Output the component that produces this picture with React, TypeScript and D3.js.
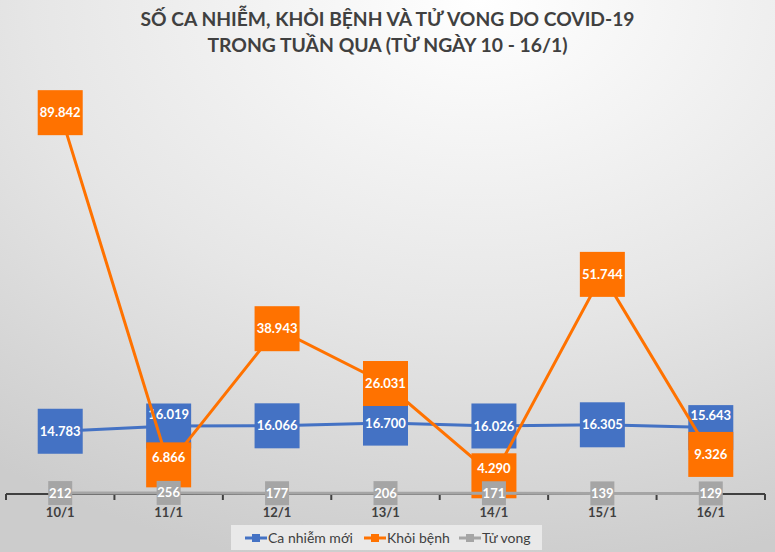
import React from 'react'
import * as d3 from 'd3'

const categories = ['10/1', '11/1', '12/1', '13/1', '14/1', '15/1', '16/1']
const newCases = [14783, 16019, 16066, 16700, 16026, 16305, 15643]
const recovered = [89842, 6866, 38943, 26031, 4290, 51744, 9326]
const deaths = [212, 256, 177, 206, 171, 139, 129]
const seriesNames = ['Ca nhiễm mới', 'Khỏi bệnh', 'Tử vong']
const seriesColors = ['#4472C4', '#FF7200', '#A5A5A5']
const titleLines = [
  'SỐ CA NHIỄM, KHỎI BỆNH VÀ TỬ VONG DO COVID-19',
  'TRONG TUẦN QUA (TỪ NGÀY 10 - 16/1)',
]

const W = 775
const H = 552
const font = "'Liberation Sans Narrow', Lato, 'Noto Sans', sans-serif"

const fmt = (v: number) => d3.format(',')(v).replace(/,/g, '.')

export default function App() {
  const x = d3.scaleBand().domain(categories).range([6, 765])
  const cx = (c: string) => (x(c) as number) + x.bandwidth() / 2
  const y = d3.scaleLinear().domain([0, 90000]).range([494, 112])

  const series = [newCases, recovered, deaths]
  const boxSize = [45, 45, 24]

  const line = d3.line<number>()
    .x((d, i) => cx(categories[i]))
    .y(d => y(d))

  const ticks = categories.map(c => x(c) as number).concat([765])

  // label text lifted when the next series' box sits on top of it
  const labelShift = (s: number, i: number) => {
    if (s >= 2) return 0
    const next = series[s + 1][i]
    const gap = y(next) - y(series[s][i])
    const half = (boxSize[s] + boxSize[s + 1]) / 2
    if (gap > 0 && gap < half) return s === 0 ? -12 : -7
    return 0
  }

  return (
    <svg width={W} height={H} style={{ position: 'absolute', left: 0, top: 0 }}>
      <defs>
        <radialGradient id="bg" cx="0.62" cy="0" r="1.05">
          <stop offset="0" stopColor="#ffffff" />
          <stop offset="0.55" stopColor="#e6e6e6" />
          <stop offset="1" stopColor="#cccccc" />
        </radialGradient>
      </defs>
      <rect width={W} height={H} fill="url(#bg)" />

      {titleLines.map((t, i) => (
        <text key={i} x={W / 2} y={26 + i * 26} textAnchor="middle" fontFamily={font}
          fontWeight="bold" fontSize={19} fill="#404040"
          textLength={i === 0 ? 494 : 360} lengthAdjust="spacingAndGlyphs">{t}</text>
      ))}

      {/* axis */}
      <line x1={6} x2={765} y1={494} y2={494} stroke="#404040" strokeWidth={2} />
      {ticks.map((t, i) => (
        <line key={i} x1={t} x2={t} y1={494} y2={500} stroke="#404040" strokeWidth={2} />
      ))}
      {categories.map(c => (
        <text key={c} x={cx(c)} y={517} textAnchor="middle" fontFamily={font}
          fontWeight="bold" fontSize={13} fill="#404040">{c}</text>
      ))}

      {series.map((vals, s) => (
        <g key={s}>
          <path d={line(vals) as string} fill="none" stroke={seriesColors[s]} strokeWidth={3} />
          {vals.map((v, i) => {
            const px = cx(categories[i])
            const py = y(v)
            const b = boxSize[s]
            return (
              <g key={i}>
                <rect x={px - b / 2} y={py - b / 2} width={b} height={b} fill={seriesColors[s]} />
                <text x={px} y={py + labelShift(s, i)} dy="0.35em" textAnchor="middle"
                  fontFamily={font} fontWeight="bold" fontSize={13} fill="#ffffff">{fmt(v)}</text>
              </g>
            )
          })}
        </g>
      ))}

      {/* legend */}
      <rect x={231} y={525} width={311} height={25} fill="#e9e9e9" />
      {seriesNames.map((n, i) => {
        const lx = [245, 364, 459][i]
        return (
          <g key={n}>
            <line x1={lx} x2={lx + 22} y1={538} y2={538} stroke={seriesColors[i]} strokeWidth={3} />
            <rect x={lx + 7} y={534} width={8} height={8} fill={seriesColors[i]} />
            <text x={lx + 23} y={538} dy="0.35em" fontFamily={font} fontSize={14}
              fill="#404040">{n}</text>
          </g>
        )
      })}
    </svg>
  )
}
